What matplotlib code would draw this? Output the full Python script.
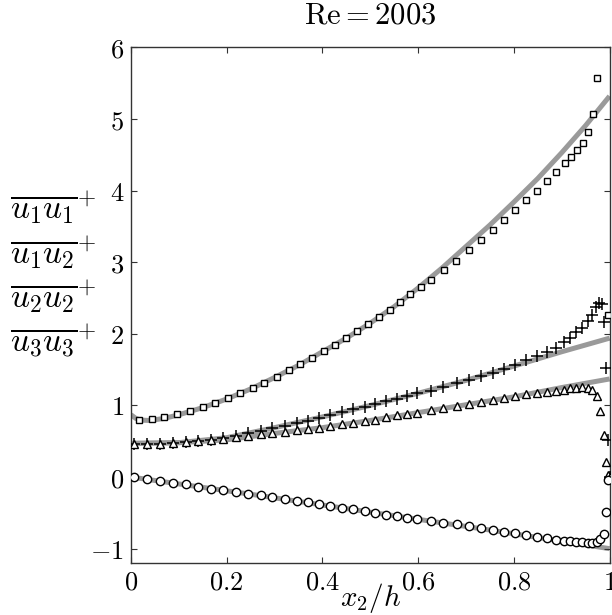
import matplotlib
matplotlib.use("Agg")
import matplotlib.pyplot as plt
import matplotlib.transforms as mtransforms

plt.rcParams['mathtext.fontset'] = 'cm'
plt.rcParams['font.family'] = ['DejaVu Serif']

# ---------------- data ----------------
sq_x = [0.017, 0.043, 0.070, 0.097, 0.123, 0.150, 0.176, 0.202, 0.228, 0.254, 0.279, 0.305,
        0.330, 0.354, 0.379, 0.403, 0.426, 0.449, 0.473, 0.496, 0.518, 0.541, 0.562, 0.584,
        0.605, 0.626, 0.654, 0.680, 0.706, 0.731, 0.757, 0.780, 0.803, 0.825, 0.848, 0.869,
        0.888, 0.907, 0.920, 0.932, 0.944, 0.955, 0.965, 0.974, 0.996]
sq_y = [0.80, 0.81, 0.84, 0.874, 0.918, 0.976, 1.03, 1.10, 1.17, 1.25, 1.32, 1.40,
        1.49, 1.58, 1.66, 1.76, 1.85, 1.94, 2.04, 2.14, 2.24, 2.34, 2.44, 2.55,
        2.65, 2.75, 2.89, 3.02, 3.17, 3.31, 3.45, 3.59, 3.73, 3.87, 4.00, 4.13,
        4.26, 4.38, 4.47, 4.57, 4.67, 4.82, 5.07, 5.57, 2.26]

pl_x = [0.007, 0.033, 0.060, 0.087, 0.114, 0.140, 0.167, 0.193, 0.219, 0.245, 0.271, 0.295,
        0.321, 0.346, 0.369, 0.392, 0.416, 0.441, 0.464, 0.488, 0.510, 0.533, 0.555, 0.577,
        0.598, 0.626, 0.653, 0.681, 0.706, 0.731, 0.756, 0.780, 0.803, 0.826, 0.848, 0.869,
        0.888, 0.905, 0.917, 0.930, 0.942, 0.954, 0.964, 0.972, 0.978, 0.984, 0.989, 0.993,
        0.996, 1.0]
pl_y = [0.465, 0.465, 0.465, 0.480, 0.490, 0.504, 0.519, 0.540, 0.575, 0.610, 0.644, 0.682,
        0.716, 0.750, 0.783, 0.822, 0.866, 0.904, 0.947, 0.984, 1.019, 1.058, 1.097, 1.130,
        1.169, 1.207, 1.260, 1.308, 1.357, 1.405, 1.458, 1.510, 1.568, 1.632, 1.684, 1.742,
        1.809, 1.886, 1.949, 2.022, 2.088, 2.175, 2.27, 2.37, 2.43, 2.42, 2.17, 1.525,
        0.513, 0.0]

tr_x = [0.007, 0.033, 0.060, 0.087, 0.114, 0.140, 0.167, 0.193, 0.219, 0.245, 0.271, 0.295,
        0.321, 0.346, 0.369, 0.392, 0.416, 0.441, 0.464, 0.488, 0.510, 0.533, 0.555, 0.577,
        0.598, 0.626, 0.653, 0.681, 0.706, 0.731, 0.756, 0.780, 0.803, 0.826, 0.848, 0.869,
        0.888, 0.905, 0.917, 0.930, 0.942, 0.954, 0.964, 0.974, 0.981, 0.988, 0.993, 0.997, 1.0]
tr_y = [0.465, 0.465, 0.465, 0.480, 0.490, 0.504, 0.519, 0.538, 0.562, 0.577, 0.595, 0.614,
        0.634, 0.653, 0.672, 0.692, 0.716, 0.736, 0.754, 0.779, 0.802, 0.836, 0.866, 0.884,
        0.899, 0.932, 0.967, 0.990, 1.019, 1.048, 1.072, 1.105, 1.130, 1.154, 1.173, 1.188,
        1.207, 1.222, 1.241, 1.250, 1.255, 1.250, 1.212, 1.126, 0.928, 0.585, 0.210, 0.030, 0.0]

ci_x = [0.007, 0.033, 0.060, 0.087, 0.114, 0.140, 0.167, 0.193, 0.219, 0.245, 0.271, 0.295,
        0.321, 0.346, 0.369, 0.392, 0.416, 0.441, 0.464, 0.488, 0.510, 0.533, 0.555, 0.577,
        0.598, 0.626, 0.653, 0.681, 0.706, 0.731, 0.756, 0.780, 0.803, 0.826, 0.848, 0.869,
        0.888, 0.905, 0.917, 0.930, 0.942, 0.954, 0.964, 0.974, 0.981, 0.988, 0.993, 0.996]
ci_y = [0.007, -0.026, -0.055, -0.079, -0.103, -0.132, -0.161, -0.185, -0.210, -0.233, -0.257, -0.282,
        -0.311, -0.329, -0.354, -0.377, -0.402, -0.431, -0.450, -0.474, -0.503, -0.527, -0.546, -0.571,
        -0.590, -0.614, -0.638, -0.662, -0.687, -0.715, -0.739, -0.763, -0.788, -0.811, -0.835, -0.854,
        -0.874, -0.889, -0.898, -0.908, -0.913, -0.917, -0.917, -0.913, -0.869, -0.802, -0.484, -0.040]

# model curves (gray)
m11_x = [0.0, 0.01, 0.02, 0.04, 0.07, 0.10, 0.15, 0.20, 0.25, 0.30, 0.35, 0.40, 0.45, 0.50,
         0.55, 0.60, 0.65, 0.70, 0.75, 0.80, 0.85, 0.90, 0.95, 1.0]
m11_y = [0.87, 0.82, 0.795, 0.79, 0.82, 0.87, 0.97, 1.09, 1.23, 1.39, 1.56, 1.75, 1.94, 2.15,
         2.38, 2.64, 2.92, 3.22, 3.52, 3.84, 4.17, 4.53, 4.91, 5.32]
m22_x = [0.0, 0.1, 0.2, 0.3, 0.4, 0.5, 0.6, 0.7, 0.8, 0.9, 1.0]
m22_y = [0.47, 0.48, 0.55, 0.69, 0.84, 1.00, 1.17, 1.35, 1.55, 1.75, 1.94]
m33_x = [0.0, 0.1, 0.2, 0.3, 0.4, 0.5, 0.6, 0.7, 0.8, 0.9, 1.0]
m33_y = [0.47, 0.48, 0.52, 0.61, 0.69, 0.79, 0.90, 1.01, 1.12, 1.25, 1.37]
m12_x = [0.0, 0.25, 0.5, 0.75, 1.0]
m12_y = [0.0, -0.24, -0.49, -0.74, -1.0]

xticks = [0, 0.2, 0.4, 0.6, 0.8, 1.0]
xtick_labels = ['$0$', '$0.2$', '$0.4$', '$0.6$', '$0.8$', '$1$']
yticks = [-1, 0, 1, 2, 3, 4, 5, 6]
ytick_labels = ['$-1$', '$0$', '$1$', '$2$', '$3$', '$4$', '$5$', '$6$']

ylabel_lines = [r'$\overline{u_1u_1}^{+}$', r'$\overline{u_1u_2}^{+}$',
                r'$\overline{u_2u_2}^{+}$', r'$\overline{u_3u_3}^{+}$']
ylabel_levels = [3.77, 3.14, 2.52, 1.89]

# ---------------- figure ----------------
fig = plt.figure(figsize=(6.12, 6.15), dpi=100)
ax = fig.add_axes([0.214, 0.0846, 0.782, 0.8382])

gray = '#9a9a9a'
lw = 3.6
for mx, my in [(m11_x, m11_y), (m22_x, m22_y), (m33_x, m33_y), (m12_x, m12_y)]:
    ax.plot(mx, my, color=gray, lw=lw, solid_capstyle='butt', zorder=1)

mk = dict(linestyle='none', color='black', zorder=3)
ax.plot(sq_x, sq_y, marker='s', markersize=5, markerfacecolor='white',
        markeredgewidth=1.0, **mk)
ax.plot(pl_x, pl_y, marker='+', markersize=8, markeredgewidth=1.1, **mk)
ax.plot(tr_x, tr_y, marker='^', markersize=6, markerfacecolor='white',
        markeredgewidth=1.0, **mk)
ax.plot(ci_x, ci_y, marker='o', markersize=6, markerfacecolor='white',
        markeredgewidth=1.0, **mk)

ax.set_xlim(0, 1)
ax.set_ylim(-1.2, 6)
ax.set_xticks(xticks)
ax.set_xticklabels(xtick_labels)
ax.set_yticks(yticks)
ax.set_yticklabels(ytick_labels)
ax.tick_params(direction='in', length=4, width=0.8, color='#333333',
               top=True, right=True, labelsize=19)
ax.tick_params(axis='x', pad=5)
ax.tick_params(axis='y', pad=5)
for s in ax.spines.values():
    s.set_color('#333333')
    s.set_linewidth(1.0)

ax.set_title(r'$\mathrm{Re} = 2003$', fontsize=22, pad=17)
ax.set_xlabel(r'$x_2/h$', fontsize=21, labelpad=-10)

trans = mtransforms.blended_transform_factory(fig.transFigure, ax.transData)
for t, yy in zip(ylabel_lines, ylabel_levels):
    fig.text(0.016, yy, t, fontsize=24, ha='left', va='center', transform=trans)

fig.savefig('out.png', dpi=100)
